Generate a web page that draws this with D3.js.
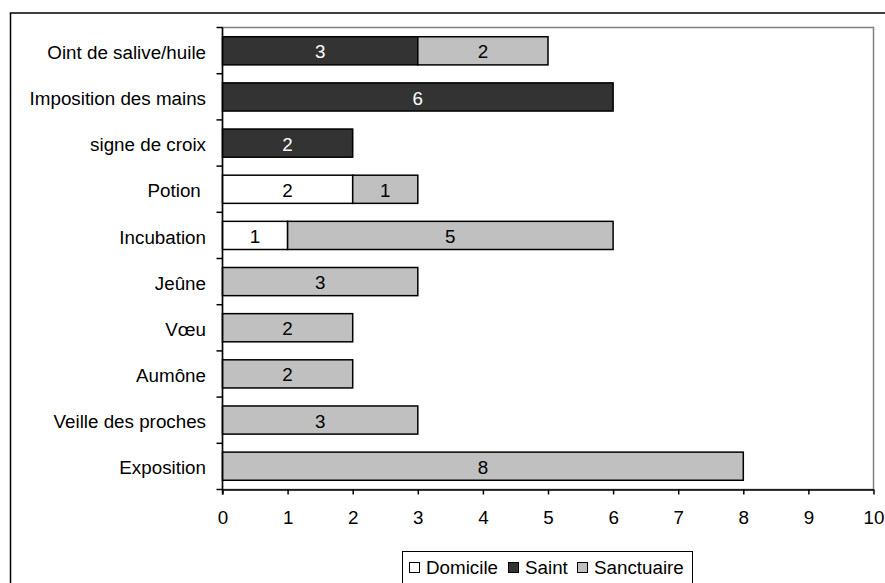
<!DOCTYPE html>
<html><head><meta charset="utf-8">
<script src="https://cdn.jsdelivr.net/npm/d3@7"></script>
<style>html,body{margin:0;padding:0;background:#fff;}svg{display:block;font-family:"Liberation Sans",Arial,sans-serif;}text{white-space:pre;}</style>
</head><body>
<script>
const categories = ["Oint de salive/huile","Imposition des mains","signe de croix","Potion ","Incubation","Jeûne","Vœu","Aumône","Veille des proches","Exposition"];
const domicile   = [0,0,0,2,1,0,0,0,0,0];
const saint      = [3,6,2,0,0,0,0,0,0,0];
const sanctuaire = [2,0,0,1,5,3,2,2,3,8];
const seriesNames = ["Domicile","Saint","Sanctuaire"];
const seriesColors = ["#ffffff","#333333","#c0c0c0"];
const labelColors = ["#000000","#ffffff","#000000"];
const xTicks = [0,1,2,3,4,5,6,7,8,9,10];

(function(){
const W = 885, H = 583;
const pL = 222.5, pR = 873.5, pT = 27.5, pB = 489.5;
const FS = 18.8;

const svg = d3.select("body").append("svg").attr("width", W).attr("height", H);

// outer chart frame
svg.append("rect").attr("x",10.5).attr("y",13).attr("width",1000).attr("height",1000)
  .attr("fill","none").attr("stroke","#000").attr("stroke-width",1.5);

const x = d3.scaleLinear().domain([0,10]).range([pL,pR]);
const y = d3.scaleBand().domain(categories).range([pT,pB]).paddingInner(0.39).paddingOuter(0.2);

// plot area border (gray)
svg.append("rect").attr("x",pL).attr("y",pT).attr("width",pR-pL).attr("height",pB-pT)
  .attr("fill","none").attr("stroke","#808080").attr("stroke-width",1.5);

const data = categories.map((c,i)=>({cat:c, Domicile:domicile[i], Saint:saint[i], Sanctuaire:sanctuaire[i]}));
const stack = d3.stack().keys(seriesNames)(data);

stack.forEach((layer,si)=>{
  const g = svg.append("g");
  layer.forEach(d=>{
    const v = d[1]-d[0];
    if (v<=0) return;
    const cat = d.data.cat;
    g.append("rect").attr("x",x(d[0])).attr("y",y(cat)).attr("width",x(d[1])-x(d[0])).attr("height",y.bandwidth())
      .attr("fill",seriesColors[si]).attr("stroke","#000").attr("stroke-width",1.5);
    g.append("text").attr("x",(x(d[0])+x(d[1]))/2).attr("y",y(cat)+y.bandwidth()/2+1).attr("dy","0.35em")
      .attr("text-anchor","middle").attr("font-size",FS).attr("fill",labelColors[si]).text(v);
  });
});

// y axis
const yTickPos = d3.range(categories.length+1).map(i=>pT + i*(pB-pT)/categories.length);
svg.append("line").attr("x1",pL).attr("x2",pL).attr("y1",pT).attr("y2",pB+5).attr("stroke","#000").attr("stroke-width",1.5);
yTickPos.forEach(p=>{
  svg.append("line").attr("x1",pL-6).attr("x2",pL).attr("y1",p).attr("y2",p).attr("stroke","#000").attr("stroke-width",1.5);
});
categories.forEach(c=>{
  svg.append("text").attr("x",206).attr("y",y(c)+y.bandwidth()/2+1.5).attr("dy","0.35em")
    .attr("text-anchor","end").attr("font-size",FS).attr("fill","#000").text(c);
});

// x axis
const xAxis = d3.axisBottom(x).tickValues(xTicks).tickSize(5).tickSizeOuter(0).tickPadding(16);
const gx = svg.append("g").attr("transform",`translate(0,${pB})`).call(xAxis);
gx.select(".domain").attr("stroke","#000").attr("stroke-width",1.5);
gx.selectAll(".tick line").attr("stroke","#000").attr("stroke-width",1.5);
gx.selectAll(".tick text").attr("font-size",FS).attr("font-family","Liberation Sans, Arial, sans-serif").attr("fill","#000");

// legend
const lg = svg.append("g");
lg.append("rect").attr("x",402.5).attr("y",551.5).attr("width",290).attr("height",40)
  .attr("fill","#fff").attr("stroke","#000").attr("stroke-width",1);
const legX = [409,508,577];
seriesNames.forEach((n,i)=>{
  lg.append("rect").attr("x",legX[i]+0.5).attr("y",562.5).attr("width",10).attr("height",10)
    .attr("fill",seriesColors[i]).attr("stroke","#000").attr("stroke-width",1);
  lg.append("text").attr("x",legX[i]+17).attr("y",574).attr("font-size",FS).attr("fill","#000").text(n);
});
})();
</script>
</body></html>
